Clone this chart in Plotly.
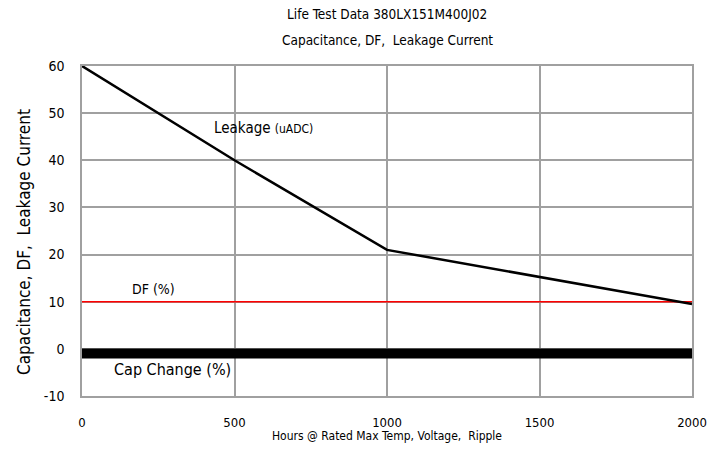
import plotly.graph_objects as go

hours = [0, 500, 1000, 2000]
leakage = [60, 40, 21, 9.5]
df_pct = [10, 10, 10, 10]
cap_change = [-1, -1, -1, -1]

x_ticks = [0, 500, 1000, 1500, 2000]
y_ticks = [-10, 0, 10, 20, 30, 40, 50, 60]
y_tick_text = ["-10", "0", "10", "20", "30", "40", "50", "60"]

font = "DejaVu Sans Condensed, Open Sans, sans-serif"

fig = go.Figure()
fig.add_trace(go.Scatter(x=hours, y=cap_change, mode="lines",
                         line=dict(color="black", width=10), showlegend=False))
fig.add_trace(go.Scatter(x=hours, y=df_pct, mode="lines",
                         line=dict(color="#ff0000", width=1.5), showlegend=False))
fig.add_trace(go.Scatter(x=hours, y=leakage, mode="lines",
                         line=dict(color="black", width=2.5), showlegend=False))

fig.add_annotation(x=426, y=46.9, text="Leakage <span style='font-size:12px'>(uADC)</span>",
                   showarrow=False, xanchor="left", yanchor="middle",
                   font=dict(family=font, size=15, color="black"))
fig.add_annotation(x=233, y=12.7, text="DF (%)", showarrow=False,
                   xanchor="center", yanchor="middle",
                   font=dict(family=font, size=14, color="black"))
fig.add_annotation(x=298, y=-4.3, text="Cap Change (%)", showarrow=False,
                   xanchor="center", yanchor="middle",
                   font=dict(family=font, size=16, color="black"))

# titles
fig.add_annotation(xref="paper", yref="paper", x=0.5, y=1.1576,
                   text="Life Test Data 380LX151M400J02",
                   xanchor="center", yanchor="middle",
                   showarrow=False, font=dict(family=font, size=13.5, color="black"))
fig.add_annotation(xref="paper", yref="paper", x=0.5, y=1.0788,
                   text="Capacitance, DF,  Leakage Current",
                   xanchor="center", yanchor="middle",
                   showarrow=False, font=dict(family=font, size=13.5, color="black"))
fig.add_annotation(xref="paper", yref="paper", x=0.5, y=-0.1212,
                   text="Hours @ Rated Max Temp, Voltage,  Ripple",
                   xanchor="center", yanchor="middle",
                   showarrow=False, font=dict(family=font, size=12, color="black"))
fig.add_annotation(xref="paper", yref="paper", x=-0.095, y=0.467, textangle=-90,
                   text="Capacitance, DF,  Leakage Current",
                   xanchor="center", yanchor="middle",
                   showarrow=False, font=dict(family=font, size=17, color="black"))

fig.update_layout(
    width=726, height=460,
    margin=dict(l=82, r=34, t=66, b=64),
    paper_bgcolor="white", plot_bgcolor="white",
    font=dict(family=font, color="black"),
)
fig.update_xaxes(range=[0, 2000], tickvals=x_ticks, showgrid=True, gridcolor="#a0a0a0",
                 gridwidth=1.5, showline=True, linecolor="#a0a0a0", linewidth=1.5,
                 mirror=True, zeroline=False, ticks="", automargin=False,
                 ticklabelstandoff=14,
                 tickfont=dict(family=font, size=13))
fig.update_yaxes(range=[-10, 60], tickvals=y_ticks, ticktext=y_tick_text, showgrid=True,
                 gridcolor="#a0a0a0",
                 gridwidth=1.5, showline=True, linecolor="#a0a0a0", linewidth=1.5,
                 mirror=True, zeroline=False, ticks="", automargin=False,
                 ticklabelstandoff=13,
                 tickfont=dict(family=font, size=14))

fig.write_html("out.html", config={"displayModeBar": False},
               post_script="document.body.style.margin='0px';")
